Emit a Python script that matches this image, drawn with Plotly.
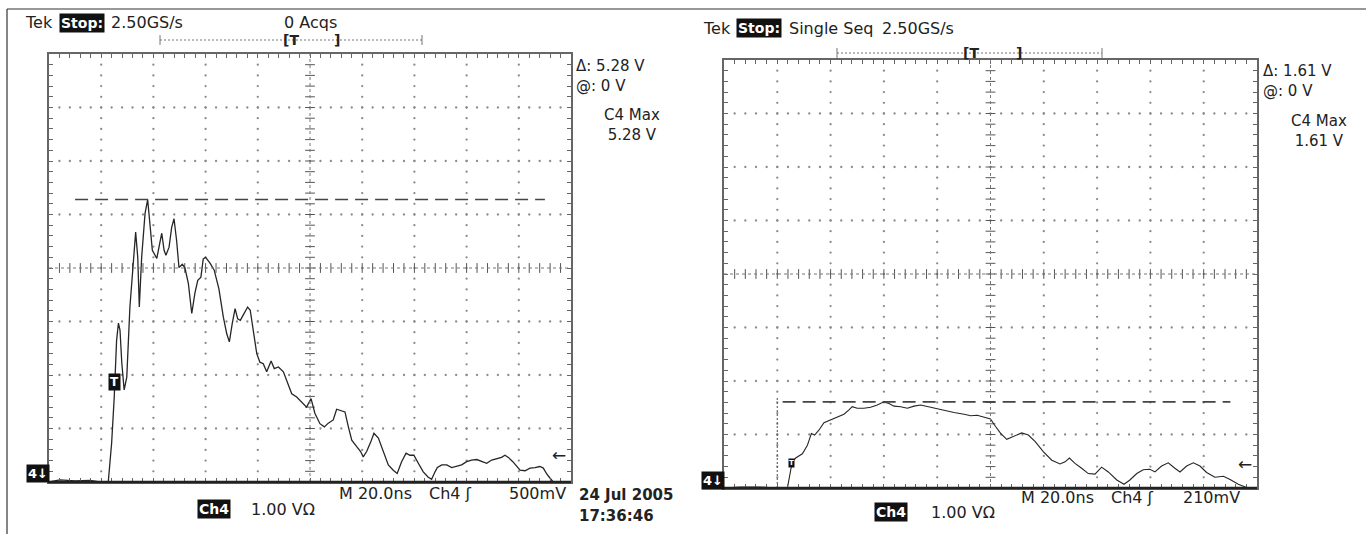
import plotly.graph_objects as go
import numpy as np

# ---------------- data ----------------
# Left capture: time (ns from left edge of screen), voltage (V)
left_t_ns = [0, 4.2, 10.0, 15.7, 19.5, 22.7, 24.0, 25.0, 25.9, 26.6, 27.2, 27.9, 28.8, 29.8,
             31.0, 32.3, 33.2, 34.0, 34.6, 35.5, 36.8, 37.8, 38.7, 39.6,
             41.3, 42.3, 43.2, 44.1, 44.8, 46.0, 47.0, 47.9, 48.9, 49.8,
             51.1, 52.1, 53.4, 54.7, 55.9, 57.0, 58.2, 59.1, 60.0, 61.7,
             63.3, 65.1, 66.8, 68.1, 69.1, 70.2, 71.3, 72.3, 73.3, 74.4,
             76.1, 77.1, 78.3, 79.6, 80.8, 82.1, 83.4, 85.1, 86.3, 87.9,
             89.8, 91.1, 93.0, 94.9, 96.8, 98.7, 100.4, 101.9, 103.8, 105.5,
             107.0, 108.9, 110.2, 111.8, 113.4, 114.7, 116.0, 117.9, 119.4, 120.4,
             121.7, 123.3, 124.5, 126.2, 128.1, 130.0, 131.9, 133.4, 135.1, 136.8,
             138.3, 139.8, 141.5, 143.4, 145.3, 146.6, 147.9, 148.8, 150.5, 152.4,
             154.3, 156.2, 158.1, 160.0, 161.9, 163.9, 165.8, 167.7, 169.6, 171.5,
             173.4, 174.7, 176.0, 177.7, 179.2, 180.5, 182.4, 184.3, 186.2, 188.1,
             189.4, 190.7, 192.0, 193.2, 195.8]
left_v = [0, 0.04, 0.02, 0.03, 0.0, 0.0, 0.73, 1.59, 2.65, 2.97, 2.84, 2.22, 1.72, 1.96,
          3.27, 4.20, 4.67, 4.20, 3.27, 4.20, 5.02, 5.28, 4.83, 4.33,
          4.18, 4.46, 4.65, 4.33, 4.24, 4.39, 4.76, 4.92, 4.51, 4.01,
          4.07, 4.00, 3.71, 3.15, 3.53, 3.77, 3.83, 4.17, 4.20, 4.09,
          3.96, 3.61, 3.08, 2.77, 2.62, 2.96, 3.24, 3.05, 3.02, 3.12,
          3.27, 3.21, 2.84, 2.40, 2.24, 2.21, 2.06, 2.26, 2.12, 2.15,
          2.06, 1.90, 1.65, 1.59, 1.50, 1.40, 1.56, 1.28, 1.09, 1.03,
          1.10, 1.16, 1.36, 1.33, 1.31, 1.03, 0.78, 0.66, 0.57, 0.47,
          0.57, 0.75, 0.91, 0.82, 0.57, 0.32, 0.22, 0.16, 0.38, 0.54,
          0.50, 0.50, 0.35, 0.19, 0.09, 0.05, 0.19, 0.27, 0.32, 0.32,
          0.27, 0.30, 0.32, 0.38, 0.41, 0.42, 0.38, 0.35, 0.41, 0.44,
          0.46, 0.50, 0.46, 0.38, 0.29, 0.22, 0.21, 0.26, 0.27, 0.29,
          0.26, 0.15, 0.07, 0.0, 0.0]

# Right capture
right_t_ns = [0, 6.0, 13.5, 19.1, 23.8, 25.0, 25.6, 26.9, 29.4, 31.3, 32.8, 34.0, 35.6, 37.5, 39.4,
              41.3, 43.2, 45.0, 46.9, 48.1, 50.0, 52.5, 55.0, 57.5, 60.0,
              61.9, 63.8, 66.3, 68.8, 71.3, 73.8, 76.3, 78.8, 82.6, 86.3,
              90.1, 92.6, 95.0, 97.6, 100.0, 101.9, 103.8, 106.1, 108.6, 111.7,
              114.2, 116.7, 119.8, 123.0, 126.1, 128.0, 129.6, 131.7, 134.2, 136.7,
              139.2, 141.7, 144.2, 147.4, 150.1, 152.3, 154.9, 157.3, 159.8, 161.7,
              164.2, 166.7, 169.2, 171.1, 173.6, 176.1, 178.6, 181.1, 184.2, 187.4,
              189.9, 193.0, 196.1]
right_v = [0, 0.02, 0.02, 0.0, 0.0, 0.34, 0.49, 0.56, 0.64, 0.80, 1.02, 0.99, 1.08, 1.22, 1.26,
           1.30, 1.35, 1.38, 1.46, 1.52, 1.49, 1.49, 1.51, 1.55, 1.61,
           1.58, 1.53, 1.52, 1.49, 1.53, 1.55, 1.52, 1.49, 1.44, 1.41,
           1.38, 1.35, 1.36, 1.32, 1.29, 1.15, 1.02, 0.91, 0.97, 1.03,
           0.99, 0.87, 0.68, 0.52, 0.45, 0.49, 0.56, 0.46, 0.37, 0.27,
           0.26, 0.39, 0.30, 0.15, 0.07, 0.15, 0.27, 0.34, 0.35, 0.30,
           0.41, 0.47, 0.37, 0.30, 0.41, 0.47, 0.41, 0.29, 0.20, 0.22,
           0.16, 0.07, 0.01]

cursor_max_v = [5.28, 1.61]           # max cursors (left, right)
cursor_span_ns = [[10.0, 190.0], [22.0, 190.0]]
trigger_pos = [[25.1, 1.875], [25.3, 0.47]]
trigger_level_v = [0.5, 0.45]

header_left = ["Tek", "Stop:", "2.50GS/s", "0 Acqs"]
header_right = ["Tek", "Stop:", "Single Seq", "2.50GS/s"]
readouts = [["Δ: 5.28 V", "@: 0 V", "C4 Max", "5.28 V"],
            ["Δ: 1.61 V", "@: 0 V", "C4 Max", "1.61 V"]]
bottom_left = ["M 20.0ns", "Ch4 ʃ", "500mV", "24 Jul 2005", "17:36:46"]
bottom_right = ["M 20.0ns", "Ch4 ʃ", "210mV"]
scale_label = ["Ch4", "1.00 VΩ"]

# ---------------- layout helpers ----------------
W, H = 1366, 534
FONT = "DejaVu Sans"
INK = "#222222"
GRID = "#8a8a8a"
FS = 16


def px(x):
    return x / W


def py(y):
    return 1 - y / H


# panel pixel boxes: (left, right, top, bottom)
panels = [(49, 571, 54, 482), (724, 1257, 60, 488)]

fig = go.Figure()
shapes = []
annotations = []


def ann(x, y, text, xanchor="left", size=FS, color=INK, bg=None, bold=False, align="left"):
    annotations.append(dict(
        x=px(x), y=py(y), xref="paper", yref="paper", text=("<b>%s</b>" % text) if bold else text,
        showarrow=False, xanchor=xanchor, yanchor="middle", align=align,
        font=dict(family=FONT, size=size, color=("white" if bg else color)),
        bgcolor=bg, borderpad=1))


def pline(x0, y0, x1, y1, color="#555", width=1, dash=None):
    d = dict(type="line", xref="paper", yref="paper", x0=px(x0), y0=py(y0), x1=px(x1), y1=py(y1),
             line=dict(color=color, width=width))
    if dash:
        d["line"]["dash"] = dash
    shapes.append(d)


for i, (l, r, t, b) in enumerate(panels):
    xa = "xaxis" if i == 0 else "xaxis2"
    ya = "yaxis" if i == 0 else "yaxis2"
    xr = "x" if i == 0 else "x2"
    yr = "y" if i == 0 else "y2"
    fig.layout[xa] = dict(domain=[px(l), px(r)], range=[0, 200], showgrid=False, zeroline=False,
                          showticklabels=False, ticks="inside", tick0=0, dtick=4, ticklen=4,
                          tickcolor="#666", tickwidth=1, showline=True, linecolor="#666",
                          linewidth=1.5, mirror="ticks", fixedrange=True, anchor=yr)
    fig.layout[ya] = dict(domain=[py(b), py(t)], range=[0, 8], showgrid=False, zeroline=False,
                          showticklabels=False, ticks="inside", tick0=0, dtick=0.2, ticklen=4,
                          tickcolor="#666", tickwidth=1, showline=True, linecolor="#666",
                          linewidth=1.5, mirror="ticks", fixedrange=True, anchor=xr)

    # dotted graticule (dots every 1/5 division along every division line)
    gx, gy = [], []
    for k in range(1, 10):
        if k == 5:
            continue
        for m in range(1, 40):
            gx.append(20 * k)
            gy.append(0.2 * m)
    for j in range(1, 8):
        if j == 4:
            continue
        for m in range(1, 50):
            gx.append(4 * m)
            gy.append(j)
    fig.add_trace(go.Scatter(x=gx, y=gy, mode="markers", xaxis=xr, yaxis=yr, hoverinfo="skip",
                             marker=dict(size=2.3, color=GRID), showlegend=False))
    # centre cross with minor ticks
    shapes.append(dict(type="line", xref=xr, yref=yr, x0=0, x1=200, y0=4, y1=4,
                       line=dict(color="#777", width=1, dash="dot")))
    shapes.append(dict(type="line", xref=xr, yref=yr, x0=100, x1=100, y0=0, y1=8,
                       line=dict(color="#777", width=1, dash="dot")))
    fig.add_trace(go.Scatter(x=[4 * m for m in range(1, 50)], y=[4] * 49, mode="markers",
                             xaxis=xr, yaxis=yr, hoverinfo="skip", showlegend=False,
                             marker=dict(symbol="line-ns", size=7, line=dict(color="#555", width=1))))
    fig.add_trace(go.Scatter(x=[100] * 39, y=[0.2 * m for m in range(1, 40)], mode="markers",
                             xaxis=xr, yaxis=yr, hoverinfo="skip", showlegend=False,
                             marker=dict(symbol="line-ew", size=7, line=dict(color="#555", width=1))))
    # max cursor (dashed)
    shapes.append(dict(type="line", xref=xr, yref=yr, x0=cursor_span_ns[i][0], x1=cursor_span_ns[i][1],
                       y0=cursor_max_v[i], y1=cursor_max_v[i],
                       line=dict(color="#444", width=1.6, dash="13px,7px")))

# right panel: dense dotted cursor line at first division
shapes.append(dict(type="line", xref="x2", yref="y2", x0=20, x1=20, y0=0, y1=1.72,
                   line=dict(color="#666", width=1.2, dash="2px,2px")))

# waveforms
fig.add_trace(go.Scatter(x=left_t_ns, y=left_v, mode="lines", xaxis="x", yaxis="y",
                         line=dict(color="#262626", width=1.3), showlegend=False))
fig.add_trace(go.Scatter(x=right_t_ns, y=right_v, mode="lines", xaxis="x2", yaxis="y2",
                         line=dict(color="#262626", width=1.1), showlegend=False))

# heavy bottom lines (ground)
pline(48, 482, 571, 482, color="#222", width=2.4)
pline(702, 488, 1257, 488, color="#222", width=2.4)

# outer frame (top + left)
pline(7, 9, 1366, 9, color="#333", width=1.2)
pline(7, 9, 7, 534, color="#333", width=1.2)

# ---- header left ----
ann(23, 23, header_left[0])
ann(59, 23, header_left[1], size=14, bg="#111", bold=True)
ann(109, 23, header_left[2])
ann(310, 23, header_left[3], xanchor="center")
pline(160, 40, 422, 40, color="#777", width=1, dash="2px,2px")
pline(160, 35, 160, 45, color="#777", width=1)
pline(422, 35, 422, 45, color="#777", width=1)
ann(281, 40, "[T", size=14, bold=True)
ann(332, 40, "]", size=14, bold=True)

# ---- header right ----
ann(701, 28, header_right[0])
ann(736, 28, header_right[1], size=14, bg="#111", bold=True)
ann(787, 28, header_right[2])
ann(880, 28, header_right[3])
pline(837, 53, 1102, 53, color="#777", width=1, dash="2px,2px")
pline(837, 48, 837, 58, color="#777", width=1)
pline(1102, 48, 1102, 58, color="#777", width=1)
ann(961, 53, "[T", size=14, bold=True)
ann(1014, 53, "]", size=14, bold=True)

# ---- readouts (two-line blocks) ----
ann(574, 76, readouts[0][0] + "<br>" + readouts[0][1], size=15)
ann(632, 125, readouts[0][2] + "<br>" + readouts[0][3], xanchor="center", size=15, align="center")
ann(1261, 81, readouts[1][0] + "<br>" + readouts[1][1], size=15)
ann(1319, 131, readouts[1][2] + "<br>" + readouts[1][3], xanchor="center", size=15, align="center")

# ---- bottom labels ----
ann(337, 493, bottom_left[0])
ann(427, 493, bottom_left[1])
ann(568, 493, bottom_left[2], xanchor="right")
ann(577, 495, bottom_left[3], size=15, bold=True)
ann(577, 516, bottom_left[4], size=15, bold=True)
ann(1019, 498, bottom_right[0])
ann(1109, 498, bottom_right[1])
ann(1242, 498, bottom_right[2], xanchor="right")

ann(197, 509, scale_label[0], size=14, bg="#111", bold=True)
ann(249, 509, scale_label[1])
ann(874, 512, scale_label[0], size=14, bg="#111", bold=True)
ann(929, 512, scale_label[1])

# channel ground markers
ann(26, 473, "4↓", size=13, bg="#111", bold=True)
ann(701, 480, "4↓", size=13, bg="#111", bold=True)

# trigger position markers (on waveform)
annotations.append(dict(x=trigger_pos[0][0], y=trigger_pos[0][1], xref="x", yref="y", text="<b>T</b>",
                        showarrow=False, font=dict(family=FONT, size=12, color="white"),
                        bgcolor="#111", borderpad=1))
annotations.append(dict(x=trigger_pos[1][0], y=trigger_pos[1][1], xref="x2", yref="y2", text="<b>T</b>",
                        showarrow=False, font=dict(family=FONT, size=7, color="white"),
                        bgcolor="#111", borderpad=0))
# trigger level arrows at right edge
annotations.append(dict(x=199, y=trigger_level_v[0], xref="x", yref="y", text="←", xanchor="right",
                        showarrow=False, font=dict(family=FONT, size=17, color=INK)))
annotations.append(dict(x=199, y=trigger_level_v[1], xref="x2", yref="y2", text="←", xanchor="right",
                        showarrow=False, font=dict(family=FONT, size=17, color=INK)))

fig.update_layout(width=W, height=H, autosize=False, margin=dict(l=0, r=0, t=0, b=0),
                  paper_bgcolor="white", plot_bgcolor="white", showlegend=False,
                  shapes=shapes, annotations=annotations, hovermode=False)

fig.write_html("out.html", config={"displayModeBar": False},
               post_script="document.body.style.margin='0';")
